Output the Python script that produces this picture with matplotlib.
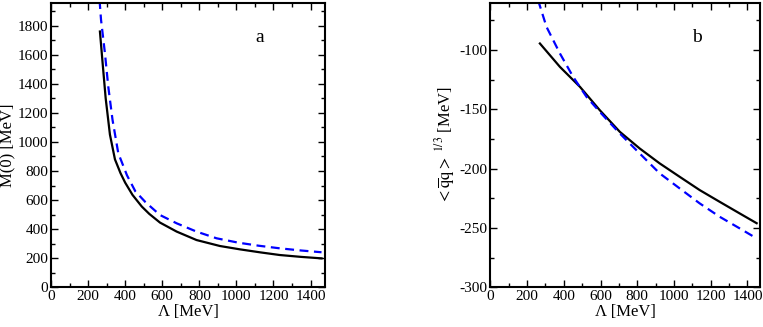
import matplotlib
matplotlib.use("Agg")
import matplotlib.pyplot as plt
from matplotlib.ticker import MultipleLocator

plt.rcParams['font.family'] = ['Liberation Serif', 'DejaVu Serif']
plt.rcParams['mathtext.fontset'] = 'stix'
plt.rcParams['axes.unicode_minus'] = False

# Panel a: M(0) vs Lambda
lam_a_solid = [264, 280, 295, 318, 345, 375, 400, 440, 490, 530, 588, 678, 785, 911, 1019, 1130, 1234, 1350, 1459]
m_a_solid = [1759, 1520, 1300, 1050, 880, 785, 720, 635, 555, 505, 445, 383, 325, 284, 261, 240, 222, 209, 199]
lam_a_dash = [262, 270, 291, 309, 332, 363, 410, 455, 510, 588, 678, 785, 893, 1010, 1120, 1234, 1350, 1459]
m_a_dash = [1975, 1839, 1610, 1380, 1151, 922, 770, 660, 585, 497, 440, 383, 337, 307, 286, 268, 253, 241]

# Panel b: condensate vs Lambda
lam_b_solid = [270, 379, 488, 596, 705, 813, 922, 1031, 1140, 1249, 1357, 1450]
q_b_solid = [-94.6, -114.3, -131.1, -150.8, -169.0, -183.0, -195.6, -206.9, -218.1, -228.0, -237.7, -246.0]
lam_b_dash = [262, 266, 306, 379, 451, 524, 596, 705, 813, 922, 1031, 1140, 1249, 1357, 1450]
q_b_dash = [-58.0, -61.0, -80.6, -103.0, -122.7, -139.6, -152.2, -170.4, -187.2, -204.0, -216.7, -229.3, -240.6, -250.3, -258.8]

fig = plt.figure(figsize=(7.63, 3.27), dpi=100)
ax1 = fig.add_axes([0.0668, 0.1214, 0.3592, 0.8694])
ax2 = fig.add_axes([0.6426, 0.1214, 0.3534, 0.8694])

dash_kw = dict(color='#0000ff', lw=1.6, linestyle=(0, (4, 2.5)))
solid_kw = dict(color='black', lw=1.6)

ax1.plot(lam_a_solid, m_a_solid, **solid_kw)
ax1.plot(lam_a_dash, m_a_dash, **dash_kw)
ax1.set_xlim(0, 1478)
ax1.set_ylim(0, 1955)
ax1.xaxis.set_major_locator(MultipleLocator(200))
ax1.xaxis.set_minor_locator(MultipleLocator(100))
ax1.yaxis.set_major_locator(MultipleLocator(200))
ax1.yaxis.set_minor_locator(MultipleLocator(100))
ax1.set_xlabel('Λ [MeV]', fontsize=12, labelpad=1)
ax1.set_ylabel('M(0) [MeV]', fontsize=12, labelpad=2)
ax1.text(0.763, 0.88, 'a', transform=ax1.transAxes, fontsize=14, ha='center', va='center')

ax2.plot(lam_b_solid, q_b_solid, **solid_kw)
ax2.plot(lam_b_dash, q_b_dash, **dash_kw)
ax2.set_xlim(0, 1468)
ax2.set_ylim(-300, -60.5)
ax2.xaxis.set_major_locator(MultipleLocator(200))
ax2.xaxis.set_minor_locator(MultipleLocator(100))
ax2.yaxis.set_major_locator(MultipleLocator(50))
ax2.yaxis.set_minor_locator(MultipleLocator(25))
ax2.set_xlabel('Λ [MeV]', fontsize=12, labelpad=1)
ax2.set_ylabel(r'$<\overline{\rm q}{\rm q}>^{\ 1/3}$ [MeV]', fontsize=12, labelpad=2)
ax2.text(0.767, 0.88, 'b', transform=ax2.transAxes, fontsize=14, ha='center', va='center')

for ax in (ax1, ax2):
    for s in ax.spines.values():
        s.set_linewidth(1.5)
    ax.tick_params(which='both', direction='in', top=True, right=True, labelsize=11, pad=2)
    ax.tick_params(which='major', length=5, width=1.0)
    ax.tick_params(which='minor', length=3, width=1.0)

fig.savefig('out.png', dpi=100)
